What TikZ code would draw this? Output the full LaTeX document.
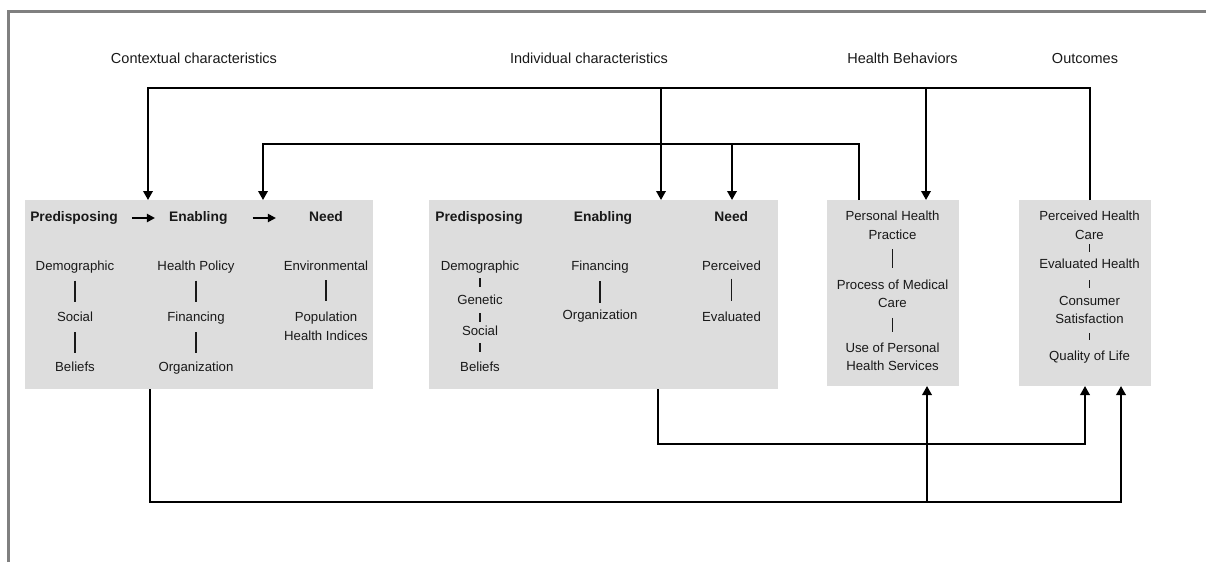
\documentclass[tikz,border=0pt]{standalone}
\usepackage{fontspec}
\setmainfont{Liberation Sans}
\usetikzlibrary{arrows.meta}
\definecolor{boxgray}{RGB}{221,221,221}
\definecolor{framegray}{RGB}{128,128,128}
\definecolor{ink}{RGB}{25,25,25}
\begin{document}
\begin{tikzpicture}[x=1pt,y=-1pt,
  box/.style={fill=boxgray, draw=none, inner sep=0pt, outer sep=0pt},
  title/.style={font=\fontsize{14.5}{17}\selectfont, text=ink, anchor=base, inner sep=0pt},
  head/.style={font=\bfseries\fontsize{13.8}{16}\selectfont, text=ink, anchor=base, inner sep=0pt, text height=10pt, text depth=3pt},
  item/.style={font=\fontsize{13.2}{18.3}\selectfont, text=ink, anchor=base, inner sep=0pt, text height=9.5pt, text depth=2.8pt},
  items/.style={font=\fontsize{13.2}{18.3}\selectfont, text=ink, anchor=north, inner sep=0pt, align=center},
  conn/.style={line width=1.9pt, black},
  arr/.style={conn, -{Triangle[length=9pt,width=9.5pt]}},
  bar/.style={line width=1.7pt, ink},
  tick/.style={line width=1.2pt, ink},
  harr/.style={line width=2.2pt, black, -{Triangle[length=8pt,width=8pt]}},
]
\useasboundingbox (0,0) rectangle (1206,562);
% frame
\draw[framegray, line width=2.7pt] (8.7,562) -- (8.7,11.3) -- (1206,11.3);

% titles
\node[title] (tctx) at (194,63.3) {Contextual characteristics};
\node[title] (tind) at (589,63.3) {Individual characteristics};
\node[title] (thb) at (902.5,63.3) {Health Behaviors};
\node[title] (tout) at (1085,63.3) {Outcomes};

% boxes
\node[box, minimum width=348pt, minimum height=189pt] (ctx) at (199,294.5) {};
\node[box, minimum width=349pt, minimum height=189pt] (ind) at (603.5,294.5) {};
\node[box, minimum width=132pt, minimum height=186pt] (hb) at (893,293) {};
\node[box, minimum width=132pt, minimum height=186pt] (out) at (1085,293) {};

% contextual content
\node[head] (cpre) at (74,221.5) {Predisposing};
\node[head] (cena) at (198.3,221.5) {Enabling};
\node[head] (cneed) at (326,221.5) {Need};
\draw[harr, shorten <=14pt, shorten >=14pt] (cpre.east) -- (cena.west);
\draw[harr, shorten <=25pt, shorten >=33pt] (cena.east) -- (cneed.west);

\node[item] (cdem) at (75,270.5) {Demographic};
\node[item] (csoc) at (75,321.7) {Social};
\node[item] (cbel) at (75,371.7) {Beliefs};
\node[item] (chp) at (196,270.5) {Health Policy};
\node[item] (cfin) at (196,321.7) {Financing};
\node[item] (corg) at (196,371.7) {Organization};
\node[item] (cenv) at (326,270.5) {Environmental};
\node[items] (cpop) at (326,312.2) {Population\\Health Indices};
\draw[bar, shorten <=7pt, shorten >=10.5pt] (cdem.south) -- (csoc.north);
\draw[bar, shorten <=7.5pt, shorten >=9pt] (csoc.south) -- (cbel.north);
\draw[bar, shorten <=7pt, shorten >=10.5pt] (chp.south) -- (cfin.north);
\draw[bar, shorten <=7.5pt, shorten >=9pt] (cfin.south) -- (corg.north);
\draw[bar, shorten <=6.5pt, shorten >=11pt] (cenv.south) -- (cpop.north);

% individual content
\node[head] (ipre) at (479,221.5) {Predisposing};
\node[head] (iena) at (603,221.5) {Enabling};
\node[head] (ineed) at (731.3,221.5) {Need};
\node[item] (idem) at (480,270.5) {Demographic};
\node[item] (igen) at (480,304) {Genetic};
\node[item] (isoc) at (480,335.7) {Social};
\node[item] (ibel) at (480,371.7) {Beliefs};
\draw[tick, shorten <=4.7pt, shorten >=7.5pt] (idem.south) -- (igen.north);
\draw[tick, shorten <=6.2pt, shorten >=4.2pt] (igen.south) -- (isoc.north);
\draw[tick, shorten <=4.5pt, shorten >=10.2pt] (isoc.south) -- (ibel.north);
\node[item] (ifin) at (600,270.5) {Financing};
\node[item] (iorg) at (600,319.5) {Organization};
\draw[bar, shorten <=7.7pt, shorten >=7pt] (ifin.south) -- (iorg.north);
\node[item] (iper) at (731.5,270.5) {Perceived};
\node[item] (ieval) at (731.5,321.7) {Evaluated};
\draw[bar, shorten <=5pt, shorten >=11.2pt] (iper.south) -- (ieval.north);

% health behaviors content
\node[items] (hphp) at (892.5,211.2) {Personal Health\\Practice};
\node[items] (hpmc) at (892.5,279.5) {Process of Medical\\Care};
\node[items] (hup) at (892.5,342.8) {Use of Personal\\Health Services};
\draw[bar, shorten <=9.8pt, shorten >=11.5pt] (hphp.south) -- (hpmc.north);
\draw[bar, shorten <=10.1pt, shorten >=10.8pt] (hpmc.south) -- (hup.north);

% outcomes content
\node[items] (ophc) at (1089.5,211.2) {Perceived Health\\Care};
\node[item] (oeh) at (1089.5,268.3) {Evaluated Health};
\node[items] (ocs) at (1089.5,296.2) {Consumer\\Satisfaction};
\node[item] (oql) at (1089.5,360.7) {Quality of Life};
\draw[tick, shorten <=4.8pt, shorten >=6.8pt] (ophc.south) -- (oeh.north);
\draw[tick, shorten <=8.9pt, shorten >=8.2pt] (oeh.south) -- (ocs.north);
\draw[tick, shorten <=8.8pt, shorten >=11.2pt] (ocs.south) -- (oql.north);

% top feedback connectors
\coordinate (tA) at (1090,88);
\coordinate (tAl) at (148,88);
\coordinate (tB) at (661,88);
\coordinate (tC) at (926,88);
\draw[arr] (out.north -| tA) -- (tA) -- (tAl) -- (ctx.north -| tAl);
\draw[arr] (tB) -- (ind.north -| tB);
\draw[arr] (tC) -- (hb.north -| tC);

\coordinate (sA) at (859,144);
\coordinate (sAl) at (263,144);
\coordinate (sB) at (732,144);
\draw[arr] (hb.north -| sA) -- (sA) -- (sAl) -- (ctx.north -| sAl);
\draw[arr] (sB) -- (ind.north -| sB);

% bottom connectors
\coordinate (bA) at (150,502);
\coordinate (bAr) at (1121,502);
\coordinate (bB) at (927,502);
\draw[arr] (ctx.south -| bA) -- (bA) -- (bAr) -- (out.south -| bAr);
\draw[arr] (bB) -- (hb.south -| bB);

\coordinate (mA) at (658,444);
\coordinate (mAr) at (1085,444);
\draw[arr] (ind.south -| mA) -- (mA) -- (mAr) -- (out.south -| mAr);
\end{tikzpicture}
\end{document}
